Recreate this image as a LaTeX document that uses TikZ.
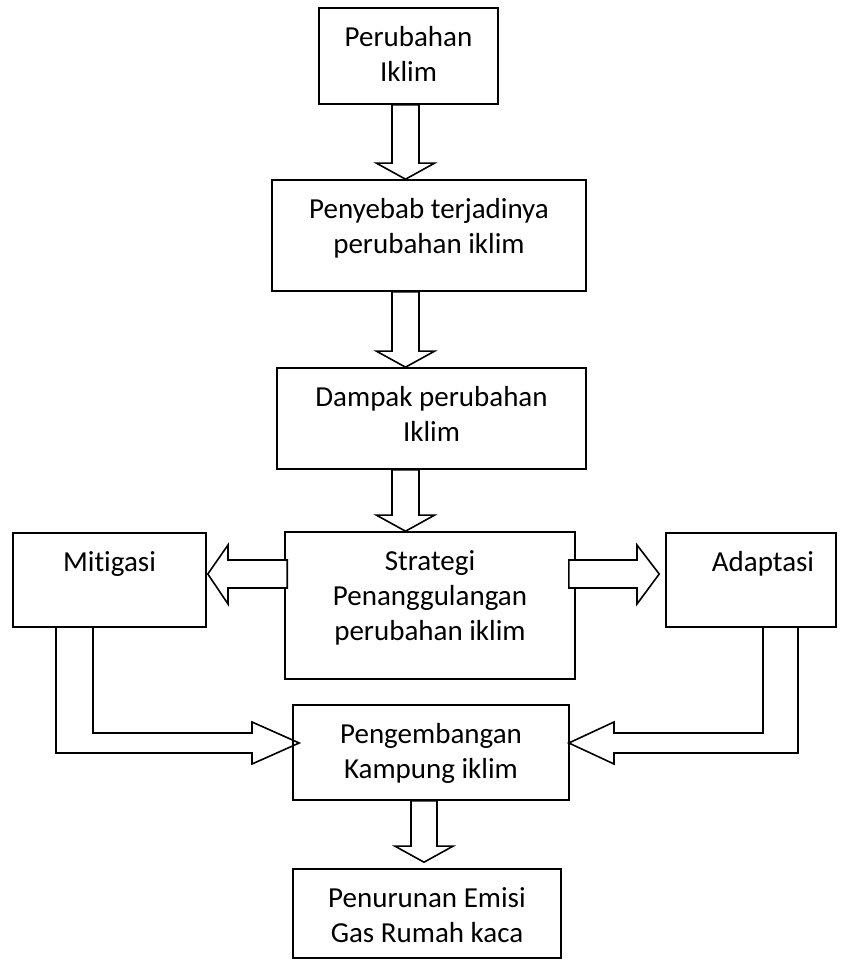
\documentclass[tikz,border=0pt]{standalone}
\usepackage{fontspec}
\setmainfont{Carlito}[Ligatures={NoCommon}]
\usetikzlibrary{calc}
\tikzset{
  box/.style={draw, line width=1.6pt, rectangle, inner sep=0pt},
  txt/.style={font=\fontsize{29}{35}\selectfont, align=center, inner sep=0pt, anchor=north, yshift=-19pt},
  blk/.style={draw, line width=1.6pt, fill=white, line join=miter},
  bent/.style={draw, line width=1.6pt, line join=miter},
}
\newcommand\dnarrow[5]{% from, to, x centre, shaft half width, tip gap
  \draw[blk] let \p1=(#1.south), \p2=(#2.north) in
    ({#3-#4},\y1) -- ({#3-#4},\y2+#5pt+16pt) -- ({#3-29},\y2+#5pt+16pt) --
    (#3,\y2+#5pt) -- ({#3+29},\y2+#5pt+16pt) -- ({#3+#4},\y2+#5pt+16pt) --
    ({#3+#4},\y1) -- cycle;}
\begin{document}
\begin{tikzpicture}[x=1pt,y=1pt]
\useasboundingbox (0,0) rectangle (848,960);
% boxes
\node[box, minimum width=179pt, minimum height=96pt,
  label={[txt]north:{Perubahan\\Iklim}}] (b1) at (408.5,904) {};
\node[box, minimum width=314pt, minimum height=111pt,
  label={[txt]north:{Penyebab terjadinya\\perubahan iklim}}] (b2) at (429,724.5) {};
\node[box, minimum width=309pt, minimum height=101pt,
  label={[txt]north:{Dampak perubahan\\Iklim}}] (b3) at (431.5,541.5) {};
\node[box, minimum width=290pt, minimum height=147pt,
  label={[txt]north:{Strategi\\Penanggulangan\\perubahan iklim}}] (b4) at (430,354.5) {};
\node[box, minimum width=193pt, minimum height=94pt,
  label={[txt]north:{Mitigasi}}] (bm) at (109.5,380) {};
\node[box, minimum width=170pt, minimum height=94pt,
  label={[txt,xshift=12pt]north:{Adaptasi}}] (ba) at (751,380) {};
\node[box, minimum width=276pt, minimum height=95pt,
  label={[txt]north:{Pengembangan\\Kampung iklim}}] (b5) at (431,207.5) {};
\node[box, minimum width=268pt, minimum height=89pt,
  label={[txt]north:{Penurunan Emisi\\Gas Rumah kaca}}] (b6) at (427,46.5) {};
% down block arrows
\dnarrow{b1}{b2}{405.5}{13.5}{0}
\dnarrow{b2}{b3}{405.5}{13.5}{0}
\dnarrow{b3}{b4}{405.5}{13.5}{0}
\dnarrow{b5}{b6}{424}{13}{6}
% side block arrows from Strategi
\draw[blk] let \p1=(b4.west), \p2=(bm.east) in
  (\x1+3pt,400) -- (228,400) -- (228,415) -- (\x2+1pt,386) -- (228,356) --
  (228,372) -- (\x1+3pt,372) -- cycle;
\draw[blk] let \p1=(b4.east), \p2=(ba.west) in
  (\x1-7pt,400) -- (637,400) -- (637,415) -- (\x2-6pt,386) -- (637,356) --
  (637,372) -- (\x1-7pt,372) -- cycle;
% bent block arrows into Pengembangan
\draw[bent] let \p1=(bm.south), \p2=(b5.west) in
  (56,\y1) -- (56,207) -- (252,207) -- (252,196) -- (\x2+7pt,217) --
  (252,238) -- (252,227) -- (93,227) -- (93,\y1);
\draw[bent] let \p1=(ba.south), \p2=(b5.east) in
  (798,\y1) -- (798,207) -- (614,207) -- (614,196) -- (\x2-1pt,217) --
  (614,238) -- (614,227) -- (763,227) -- (763,\y1);
\end{tikzpicture}
\end{document}
